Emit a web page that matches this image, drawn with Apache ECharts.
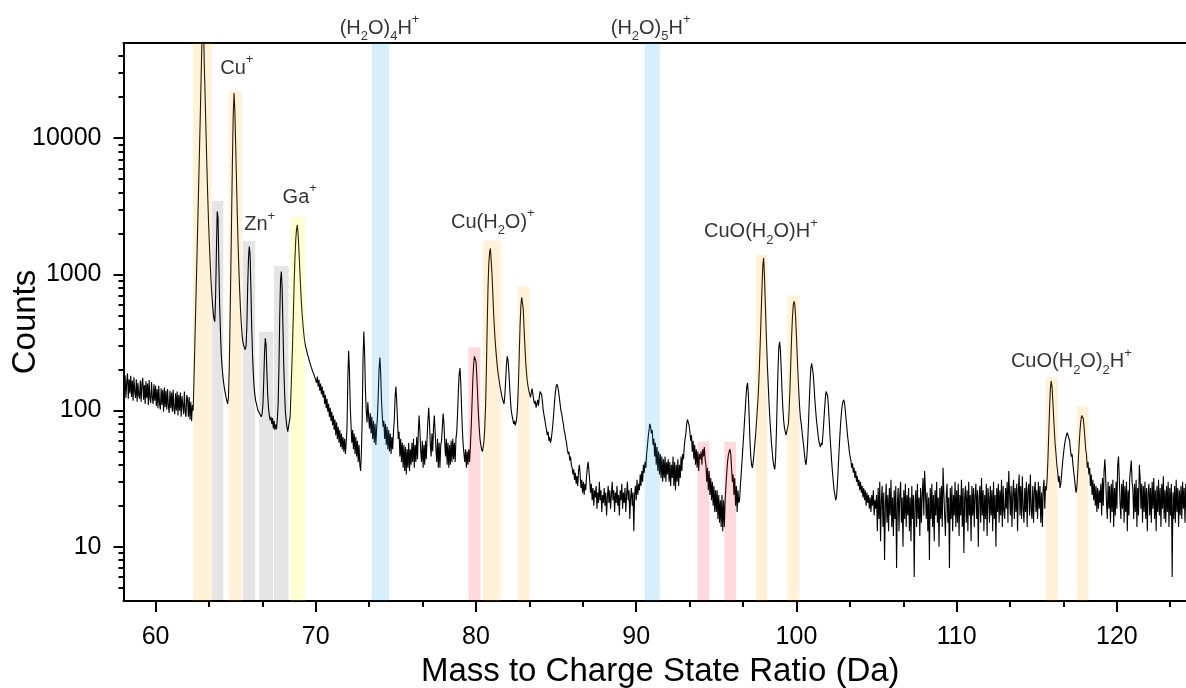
<!DOCTYPE html>
<html><head><meta charset="utf-8">
<script src="https://cdn.jsdelivr.net/npm/echarts@6/dist/echarts.min.js"></script>
<style>html,body{margin:0;padding:0;background:#fff}#chart{width:1186px;height:688px}</style>
</head><body><div id="chart"></div>
<script>
// ---- spectrum (counts), sampled every 0.05 Da starting at 58 Da ----
const startDa = 58, stepDa = 0.05;
const counts58to62 = [
175,130,182,124,162,188,122,170,134,180,126,166,118,176,138,124,170,116,160,130,
122,166,116,158,174,120,154,112,164,124,158,110,168,122,114,162,124,112,156,118,
152,108,144,104,152,112,102,146,110,142,98,148,106,140,102,144,108,96,140,104,
136,98,142,102,94,134,100,138,92,130,100,136,90,128,132,94,138,98,90,130,
122,90,126,86,116,84,110,100,170,300,520,900,1600,2800,5000,9000,16000,30000,55000,70000];
const counts63to69 = [
60000,32000,19000,11000,6500,4000,2600,1800,1300,950,750,620,520,470,450,700,1500,2900,2600,1200,
600,380,260,210,180,160,145,135,125,118,112,125,200,450,1100,2800,7000,15000,21500,16000,
9000,5000,2800,1700,1100,760,560,440,360,320,300,290,280,300,420,800,1300,1600,1400,800,
420,260,190,150,130,118,112,105,100,98,95,92,90,95,110,160,260,340,300,190,
130,105,92,85,90,80,88,74,84,72,79,73,86,110,200,480,900,1050,800,420,
220,140,100,85,76,70,68,72,90,130,200,300,500,850,1300,1800,2150,2300,1950,1500,
1100,820,630,510,430,370,330,300,285,270,255,245,232,225,212,205,195,190,182,178];
const counts70to79 = [
185,160,178,150,168,140,158,132,150,125,140,112,130,104,122,98,112,90,105,84,
98,78,92,72,86,66,82,62,76,58,72,54,68,52,64,50,62,48,58,75,
170,275,200,110,78,58,72,52,68,48,64,46,60,42,56,40,36,50,90,240,
380,260,140,100,82,115,90,74,96,68,90,62,84,58,80,56,74,90,130,200,
245,190,120,92,76,84,62,80,56,76,52,72,50,68,48,64,52,70,85,125,
150,118,85,62,70,46,62,42,58,38,56,36,54,34,52,38,58,36,52,40,
58,42,62,38,56,42,64,44,70,92,70,50,42,60,38,56,40,60,44,64,
85,105,80,56,46,68,50,76,92,70,52,42,62,38,58,38,56,60,75,95,
80,58,46,62,40,58,38,56,40,60,42,62,44,58,42,62,70,95,140,185,
205,160,105,72,56,48,42,52,38,50,40,52,42,55,75,110,165,215,250,255];
const counts80to89 = [
230,180,130,95,75,62,56,52,50,54,60,75,110,200,420,800,1200,1450,1550,1250,
1000,720,520,400,320,270,230,200,180,165,150,140,130,122,118,112,130,165,215,250,
235,195,150,120,100,92,86,80,84,78,82,90,110,160,260,420,580,680,700,560,
400,300,230,190,165,150,140,132,125,135,145,132,120,112,118,105,112,120,108,125,
138,142,130,115,100,92,85,78,72,66,70,60,64,58,62,70,80,95,115,135,
150,156,150,140,125,112,100,95,86,80,72,68,62,58,52,48,50,43,46,40,
38,34,37,31,35,29,33,28,36,40,34,27,31,25,30,24,29,26,33,38,
42,36,30,25,29,22,27,20,26,23,28,19,25,21,30,22,26,18,24,21,
27,20,25,17,23,28,21,26,19,24,30,22,26,18,25,21,28,20,24,17,
26,22,29,19,25,21,27,18,24,30,22,26,16,23,27,20,25,13,24,28];
const counts90to99 = [
22,31,24,29,26,34,28,36,30,40,35,42,38,48,55,64,72,80,76,68,
72,56,62,46,58,40,54,36,50,34,48,32,46,30,44,32,46,30,42,34,
44,30,42,28,40,32,46,28,42,26,40,30,44,28,40,32,46,36,48,44,
55,62,68,80,86,88,78,70,60,66,50,60,44,56,40,52,38,50,36,48,
44,50,40,52,46,54,44,40,30,38,26,36,24,32,22,30,20,28,18,26,
18,26,16,24,15,22,14,24,13,22,14,22,28,35,42,47,50,52,48,38,
30,34,24,32,20,28,18,26,21,22,28,34,42,52,64,80,100,125,150,160,
130,90,60,46,40,38,42,48,56,66,80,98,120,160,230,340,520,800,1150,1320,
1000,650,420,280,195,145,108,84,68,56,48,42,39,37,45,70,120,200,290,320,
280,200,140,105,85,75,70,66,64,68,80,105,150,230,350,480,590,635,600,480];
const counts100to109 = [
350,250,180,135,105,88,80,70,62,55,48,42,40,46,58,80,115,160,205,222,
215,185,150,120,100,85,75,66,60,56,54,58,56,66,80,100,122,138,142,128,
105,82,64,52,42,35,30,26,24,22,23,28,36,48,62,78,94,108,116,120,
114,100,86,74,64,57,50,46,43,38,41,35,38,32,36,30,33,28,31,26,
30,25,28,23,27,22,26,20,25,21,24,19,23,18,24,20,26,17,22,19,
24,13,27,16,30,11,22,28,14,25,8,20,29,15,24,13,27,17,31,14,
23,12,26,16,28,7,21,27,13,24,30,15,23,10,26,16,29,14,24,17,
27,13,23,11,28,16,24,6,21,26,14,29,16,23,12,27,15,24,32,17,
36,26,16,25,13,23,8,27,16,29,14,24,11,26,17,30,15,23,10,27,
16,28,14,38,25,17,12,24,29,15,23,7,27,16,28,13,24,17,30,14];
const counts110to119 = [
26,15,29,12,24,17,31,14,27,9,23,28,15,26,13,30,17,24,11,28,
17,27,14,24,29,16,26,10,23,28,15,32,17,26,13,24,16,29,12,27,
23,15,28,17,26,13,30,16,24,10,27,18,29,15,26,17,31,14,28,18,
16,27,19,30,15,36,25,17,28,14,24,31,16,27,18,29,13,26,34,17,
28,16,33,19,15,27,18,30,14,26,29,17,34,19,16,28,15,26,30,18,
26,16,30,19,28,15,25,14,27,31,19,28,26,32,45,70,105,145,165,150,
120,90,70,56,48,40,36,30,33,27,29,34,40,46,52,58,62,66,69,71,
68,60,52,46,48,41,36,32,28,25,27,34,45,58,72,84,92,94,88,76,
64,52,48,38,42,34,38,28,34,24,31,22,29,20,28,18,27,19,26,21,
29,17,32,20,36,44,33,21,16,30,19,28,15,29,18,31,14,27,17,30];
const counts120to125 = [
19,40,46,32,21,16,29,19,31,15,28,18,30,13,26,17,32,37,43,30,
26,16,29,18,31,14,27,17,40,32,19,29,15,28,18,30,16,27,13,25,
29,17,27,15,30,19,32,16,26,13,28,18,31,17,27,14,29,19,33,16,
26,15,28,18,30,14,27,17,29,6,25,16,28,15,31,18,27,14,26,17,
28,16,30,19,27,15,29,18,35,20,17,28,15,27,18,30,16,26,17,25,
21];

// ---- highlighted ranges ----
const bandStart = [62.33, 63.52, 64.57, 65.43, 66.46, 67.39, 68.42, 73.49, 79.53, 80.42, 82.62, 90.52, 93.82, 95.50, 97.46, 99.42, 115.54, 117.50];
const bandEnd   = [63.52, 64.23, 65.38, 66.22, 67.34, 68.30, 69.35, 74.59, 80.28, 81.55, 83.34, 91.48, 94.56, 96.24, 98.19, 100.19, 116.30, 118.22];
const bandTop   = [50000, 3470, 22200, 1770, 380, 1155, 2650, 50000, 292, 1770, 814, 50000, 59, 59, 1390, 699, 175, 107];
const bandKind  = ['cu','grey','cu','grey','grey','grey','ga','water','pink','cu','cu','water','pink','pink','cu','cu','cu','cu'];

// ---- annotations ----
const labelText = ['Cu{sup|+}','Zn{sup|+}','Ga{sup|+}','(H{sub|2}O){sub|4}H{sup|+}','(H{sub|2}O){sub|5}H{sup|+}','Cu(H{sub|2}O){sup|+}','CuO(H{sub|2}O)H{sup|+}','CuO(H{sub|2}O){sub|2}H{sup|+}'];
const labelX = [65.07, 66.5, 69.0, 73.98, 90.9, 81.05, 97.78, 117.16];
const labelY = [32700, 2310, 3680, 64200, 64200, 2420, 2060, 229];

// ---- axes ticks ----
const xMajorTicks = [60, 70, 80, 90, 100, 110, 120];
const xMinorTicks = [63.33, 66.67, 73.33, 76.67, 83.33, 86.67, 93.33, 96.67, 103.33, 106.67, 113.33, 116.67, 123.33];
const yMajorTicks = [10, 100, 1000, 10000];
const yMinorTicks = [5,6,7,8,9,20,30,40,50,60,70,80,90,200,300,400,500,600,700,800,900,2000,3000,4000,5000,6000,7000,8000,9000,20000,30000,40000];

const FONT = 'Arial, "Liberation Sans", sans-serif';
const kindColor = {
  cu: 'rgba(255,165,0,0.15)',
  grey: 'rgba(0,0,0,0.10)',
  ga: 'rgba(255,255,0,0.17)',
  water: 'rgba(0,155,230,0.16)',
  pink: 'rgba(245,0,25,0.15)'
};

const counts = [].concat(counts58to62, counts63to69, counts70to79, counts80to89, counts90to99, counts100to109, counts110to119, counts120to125);
const spectrum = counts.map((v, i) => [Math.round((startDa + i * stepDa) * 100) / 100, v]);
const bands = bandStart.map((s, i) => [s, bandEnd[i], bandTop[i], i]);

const axisLineStyle = {color: '#000', width: 2};
const chart = echarts.init(document.getElementById('chart'), null, {renderer: 'canvas'});
chart.setOption({
  animation: false,
  backgroundColor: '#ffffff',
  grid: {left: 123.5, right: -11, top: 43, bottom: 87, containLabel: false, outerBoundsMode: 'none'},
  xAxis: [
    {
      type: 'value', position: 'bottom', min: 58, max: 125,
      name: 'Mass to Charge State Ratio (Da)', nameLocation: 'middle', nameGap: 54, nameMoveOverlap: false,
      nameTextStyle: {fontFamily: FONT, fontSize: 33, color: '#000'},
      axisLine: {show: true, onZero: false, lineStyle: axisLineStyle},
      axisTick: {show: true, length: 11, lineStyle: axisLineStyle, customValues: xMajorTicks},
      axisLabel: {show: true, customValues: xMajorTicks, fontFamily: FONT, fontSize: 25, color: '#000', margin: 24},
      splitLine: {show: false}
    },
    {
      type: 'value', position: 'bottom', min: 58, max: 125,
      axisLine: {show: false, onZero: false},
      axisTick: {show: true, length: 6, lineStyle: axisLineStyle, customValues: xMinorTicks},
      axisLabel: {show: false}, splitLine: {show: false}
    },
    {
      type: 'value', position: 'top', min: 58, max: 125,
      axisLine: {show: true, onZero: false, lineStyle: axisLineStyle},
      axisTick: {show: false}, axisLabel: {show: false}, splitLine: {show: false}
    }
  ],
  yAxis: [
    {
      type: 'log', logBase: 10, min: 4, max: 50000, position: 'left',
      name: 'Counts', nameLocation: 'middle', nameGap: 81, nameMoveOverlap: false,
      nameTextStyle: {fontFamily: FONT, fontSize: 33, color: '#000'},
      axisLine: {show: true, onZero: false, lineStyle: axisLineStyle},
      axisTick: {show: true, length: 10, lineStyle: axisLineStyle, customValues: yMajorTicks},
      axisLabel: {show: true, customValues: yMajorTicks, fontFamily: FONT, fontSize: 25, color: '#000', margin: 22,
        formatter: v => String(Math.round(v))},
      splitLine: {show: false}
    },
    {
      type: 'log', logBase: 10, min: 4, max: 50000, position: 'left',
      axisLine: {show: false, onZero: false},
      axisTick: {show: true, length: 5, lineStyle: axisLineStyle, customValues: yMinorTicks},
      axisLabel: {show: false}, splitLine: {show: false}
    }
  ],
  series: [
    {
      type: 'line', xAxisIndex: 0, yAxisIndex: 0, data: spectrum,
      showSymbol: false, symbol: 'none', silent: true, z: 2,
      lineStyle: {color: '#000', width: 1.1}
    },
    {
      type: 'custom', xAxisIndex: 0, yAxisIndex: 0, data: bands, z: 3, silent: true,
      encode: {x: [0, 1], y: 2},
      renderItem: function (params, api) {
        const p0 = api.coord([api.value(0), api.value(2)]);
        const p1 = api.coord([api.value(1), 4]);
        return {
          type: 'rect',
          shape: {x: p0[0], y: p0[1], width: p1[0] - p0[0], height: p1[1] - p0[1]},
          style: {fill: kindColor[bandKind[api.value(3)]]}
        };
      }
    },
    {
      type: 'scatter', xAxisIndex: 0, yAxisIndex: 0, z: 5, silent: true, clip: false,
      symbolSize: 0, itemStyle: {color: 'rgba(0,0,0,0)'},
      data: labelX.map((x, i) => ({value: [x, labelY[i]], label: {formatter: labelText[i]}})),
      label: {
        show: true, position: [0, 0], align: 'center', verticalAlign: 'middle',
        color: '#000', textBorderWidth: 0, fontFamily: FONT, fontSize: 20, lineHeight: 30,
        rich: {
          sub: {fontFamily: FONT, fontSize: 13, lineHeight: 17, verticalAlign: 'bottom', color: '#000'},
          sup: {fontFamily: FONT, fontSize: 13, lineHeight: 21, verticalAlign: 'top', color: '#000'}
        }
      }
    }
  ]
});
</script></body></html>
